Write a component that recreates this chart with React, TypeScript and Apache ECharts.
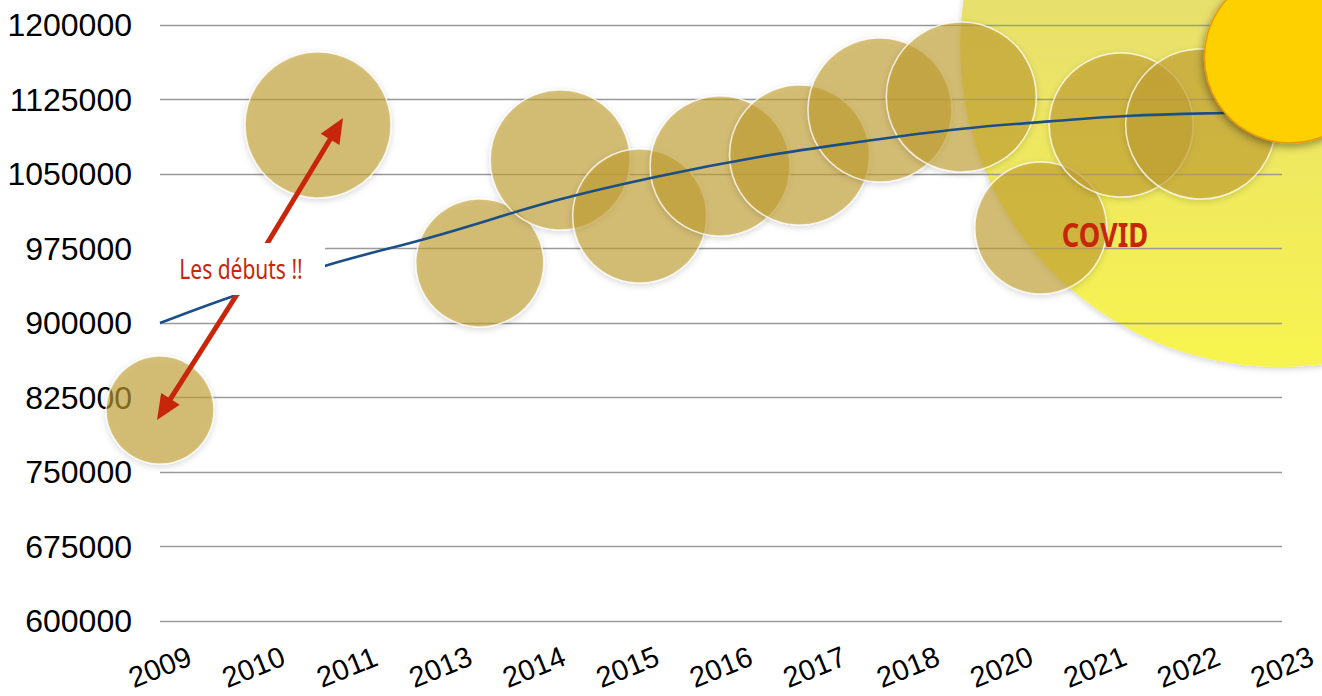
import React, { useEffect, useRef } from 'react';
import * as echarts from 'echarts';

// ---- data ----
const years = ['2009', '2010', '2011', '2013', '2014', '2015', '2016', '2017', '2018', '2020', '2021', '2022', '2023'];

// bubble positions along the year axis (index units) and values
const bubbleX = [0, 1.69, 3.42, 4.28, 5.13, 5.99, 6.84, 7.7, 8.57, 9.42, 10.28, 11.13];
const bubbleY = [812400, 1099300, 960400, 1064100, 1007700, 1058000, 1069100, 1114400, 1127500, 995600, 1099300, 1100300];
const bubbleSize = [108, 146, 128, 140, 134, 140, 140, 144, 150, 132, 144, 150];

// highlighted last bubble
const peakX = [12.09];
const peakY = [1167800];
const peakSize = [172];

// COVID halo
const haloX = [11.98];
const haloY = [1177850];
const haloSize = [640];

// trend line
const trendX = [0, 0.75, 1.77, 2.92, 4.28, 5.35, 6.42, 7.49, 8.56, 9.52, 10.34, 11.37, 12];
const trendY = [900000, 926000, 957700, 986900, 1024500, 1048000, 1067400, 1082500, 1095300, 1103000, 1108400, 1111400, 1112000];

const RED = '#C8260A';

function arrow(x1: number, y1: number, x2: number, y2: number) {
  const dx = x2 - x1;
  const dy = y2 - y1;
  const len = Math.sqrt(dx * dx + dy * dy);
  const ux = dx / len;
  const uy = dy / len;
  const headLen = 25;
  const half = 11;
  const bx = x2 - ux * headLen;
  const by = y2 - uy * headLen;
  const px = -uy;
  const py = ux;
  return [
    {
      type: 'line',
      z: 99,
      shape: { x1, y1, x2: bx + ux * 2, y2: by + uy * 2 },
      style: { stroke: RED, lineWidth: 5 },
    },
    {
      type: 'polygon',
      z: 99,
      shape: {
        points: [
          [x2, y2],
          [bx + px * half, by + py * half],
          [bx - px * half, by - py * half],
        ],
      },
      style: { fill: RED },
    },
  ];
}

export default function App() {
  const ref = useRef<HTMLDivElement>(null);
  useEffect(() => {
    document.body.style.margin = '0';
    const chart = echarts.init(ref.current!, null, { renderer: 'svg' });
    const option: any = {
      animation: false,
      backgroundColor: '#ffffff',
      grid: { left: 160, right: 40, top: 25, bottom: 75, containLabel: false, outerBoundsMode: 'none' },
      xAxis: {
        type: 'value',
        min: 0,
        max: 12,
        interval: 1,
        z: 3,
        axisLine: { show: false },
        axisTick: { show: false },
        splitLine: { show: false },
        axisLabel: {
          rotate: 22,
          align: 'center',
          verticalAlign: 'middle',
          margin: 46,
          fontSize: 29,
          lineHeight: 26,
          color: '#000',
          fontFamily: 'Liberation Sans, Arial, sans-serif',
          formatter: (v: number) => years[Math.round(v)] ?? '',
        },
      },
      yAxis: {
        type: 'value',
        min: 600000,
        max: 1200000,
        interval: 75000,
        z: 3,
        axisLine: { show: false },
        axisTick: { show: false },
        splitLine: { show: true, lineStyle: { color: '#9a9a9a', width: 1.3 } },
        axisLabel: {
          margin: 28,
          fontSize: 32,
          color: '#000',
          fontFamily: 'Liberation Sans, Arial, sans-serif',
          formatter: (v: number) => String(v),
        },
      },
      series: [
        {
          name: 'COVID',
          type: 'scatter',
          z: 1,
          clip: false,
          silent: true,
          data: haloX.map((x, i) => [x, haloY[i], haloSize[i]]),
          symbolSize: (v: number[]) => v[2],
          itemStyle: {
            color: new echarts.graphic.LinearGradient(0, 0, 0, 1, [
              { offset: 0, color: '#DED472' },
              { offset: 0.45, color: '#E8E06C' },
              { offset: 1, color: '#F8F44E' },
            ]),
            opacity: 1,
            shadowBlur: 6,
            shadowColor: 'rgba(0,0,0,0.18)',
            shadowOffsetY: 2,
          },
        },
        {
          name: 'Années',
          type: 'scatter',
          z: 4,
          clip: false,
          data: bubbleX.map((x, i) => [x, bubbleY[i], bubbleSize[i]]),
          symbolSize: (v: number[]) => v[2],
          itemStyle: {
            color: 'rgba(196,160,50,0.78)',
            borderColor: 'rgba(255,255,255,0.95)',
            borderWidth: 1.5,
            shadowBlur: 6,
            shadowColor: 'rgba(0,0,0,0.22)',
            shadowOffsetY: 2,
          },
        },
        {
          name: 'Tendance',
          type: 'line',
          z: 5,
          clip: false,
          smooth: 0.4,
          showSymbol: false,
          symbol: 'none',
          data: trendX.map((x, i) => [x, trendY[i]]),
          lineStyle: { color: '#1C4F86', width: 2.6 },
        },
        {
          name: '2023',
          type: 'scatter',
          z: 6,
          clip: false,
          data: peakX.map((x, i) => [x, peakY[i], peakSize[i]]),
          symbolSize: (v: number[]) => v[2],
          itemStyle: {
            color: '#FFD000',
            borderColor: '#E8980E',
            borderWidth: 1.5,
            opacity: 1,
            shadowBlur: 8,
            shadowColor: 'rgba(0,0,0,0.4)',
            shadowOffsetX: -1,
            shadowOffsetY: 3,
          },
        },
      ],
      graphic: [
        ...arrow(262, 252, 343, 118),
        ...arrow(243, 285, 157, 420),
        {
          type: 'rect',
          z: 100,
          shape: { x: 150, y: 243, width: 175, height: 52 },
          style: { fill: '#ffffff' },
        },
        {
          type: 'group',
          z: 101,
          x: 241,
          y: 268,
          scaleX: 0.75,
          children: [
            {
              type: 'text',
              z: 101,
              style: {
                text: 'Les débuts !!',
                x: 0,
                y: 0,
                fill: RED,
                font: '28px "Noto Sans", sans-serif',
                align: 'center',
                verticalAlign: 'middle',
                textAlign: 'center',
                textVerticalAlign: 'middle',
              },
            },
          ],
        },
        {
          type: 'group',
          z: 101,
          x: 1105,
          y: 234,
          scaleX: 0.8,
          children: [
            {
              type: 'text',
              z: 101,
              style: {
                text: 'COVID',
                x: 0,
                y: 0,
                fill: RED,
                font: 'bold 34px "Noto Sans", sans-serif',
                align: 'center',
                verticalAlign: 'middle',
                textAlign: 'center',
                textVerticalAlign: 'middle',
              },
            },
          ],
        },
      ],
    };
    chart.setOption(option);
    return () => chart.dispose();
  }, []);
  return <div ref={ref} style={{ width: 1322, height: 696 }} />;
}
